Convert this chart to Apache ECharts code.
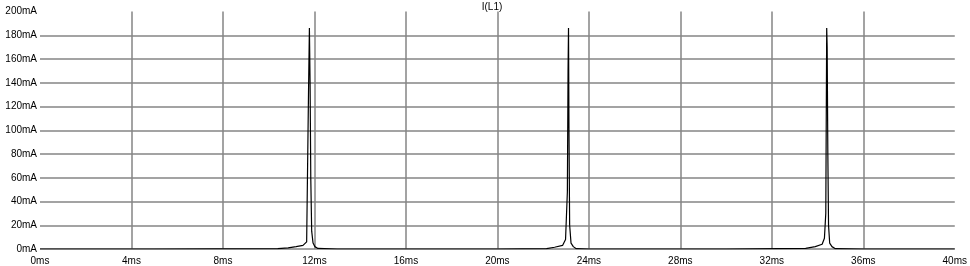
<!DOCTYPE html>
<html><head><meta charset="utf-8">
<script src="https://cdn.jsdelivr.net/npm/echarts@6/dist/echarts.min.js"></script>
<style>html,body{margin:0;padding:0;background:#fff}#c{width:970px;height:266px}</style>
</head><body><div id="c"></div>
<script>
const title = 'I(L1)';
const timeMs = [0, 5, 10.4, 10.85, 11.2, 11.5, 11.66, 11.74, 11.78, 11.81, 11.84, 11.88, 11.94, 12.02, 12.15, 13,
  20, 22.15, 22.5, 22.85, 22.98, 23.06, 23.09, 23.11, 23.13, 23.16, 23.22, 23.32, 23.45, 24,
  30, 33.48, 33.9, 34.2, 34.3, 34.36, 34.4, 34.42, 34.45, 34.48, 34.53, 34.63, 34.78, 36, 40];
const currentMA = [0, 0, 0.3, 1, 2, 3, 6, 130, 186, 140, 60, 15, 5, 2, 0.5, 0,
  0, 0.3, 1.5, 3, 8, 48, 150, 186, 100, 20, 5, 2, 0.3, 0,
  0, 0.5, 2, 4, 9, 30, 186, 170, 80, 20, 5, 2, 0.3, 0, 0];
const yTicks = [0, 20, 40, 60, 80, 100, 120, 140, 160, 180, 200];
const xTicks = [0, 4, 8, 12, 16, 20, 24, 28, 32, 36, 40];

const chart = echarts.init(document.getElementById('c'), null, {renderer: 'canvas'});
const font = {fontFamily: 'Liberation Sans, Arial, sans-serif', fontSize: 10, color: '#000'};
chart.setOption({
  animation: false,
  title: {text: title, left: 487, top: -3, textAlign: 'center', textStyle: Object.assign({}, font, {fontWeight: 'normal'})},
  grid: {left: 40, right: 12.5, top: 11.5, bottom: 16.5, containLabel: false},
  xAxis: {type: 'value', min: xTicks[0], max: xTicks[xTicks.length - 1], interval: 4,
    axisLine: {show: false}, axisTick: {show: false},
    axisLabel: Object.assign({}, font, {formatter: '{value}ms', margin: 7, showMaxLabel: true}),
    splitLine: {show: true, showMinLine: false, showMaxLine: false, lineStyle: {color: '#858585', width: 1.5}}},
  yAxis: {type: 'value', min: yTicks[0], max: yTicks[yTicks.length - 1], interval: 20,
    axisLine: {show: false}, axisTick: {show: false},
    axisLabel: Object.assign({}, font, {formatter: '{value}mA', margin: 3}),
    splitLine: {show: true, showMaxLine: false, lineStyle: {color: '#858585', width: 1.5}}},
  series: [{type: 'line', data: timeMs.map((t, i) => [t, currentMA[i]]), showSymbol: false,
    lineStyle: {color: '#000', width: 1.2}, itemStyle: {color: '#000'}}]
});
</script></body></html>
